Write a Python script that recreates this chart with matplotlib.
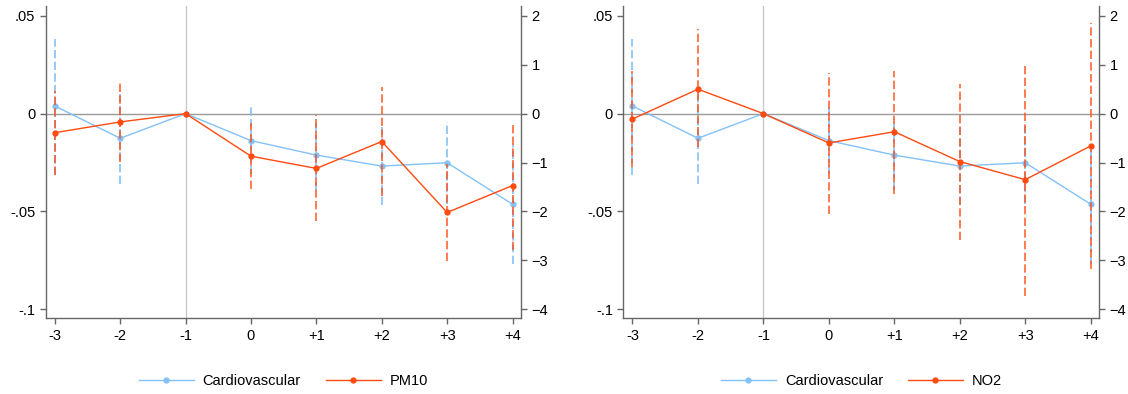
import numpy as np
import matplotlib
matplotlib.use('Agg')
import matplotlib.pyplot as plt

plt.rcParams['font.family'] = ['Liberation Sans', 'DejaVu Sans']

# event time
periods = [-3, -2, -1, 0, 1, 2, 3, 4]
period_labels = ['-3', '-2', '-1', '0', '+1', '+2', '+3', '+4']

# Cardiovascular (left axis)
cardio = [0.0039, -0.0126, 0.0, -0.0138, -0.0212, -0.0268, -0.0251, -0.0463]
cardio_lo = [-0.0316, -0.0360, 0.0, -0.0310, -0.0390, -0.0465, -0.0460, -0.0768]
cardio_hi = [0.0383, 0.0108, 0.0, 0.0036, -0.0030, -0.0070, -0.0043, -0.0160]

# PM10 (right axis)
pm10 = [-0.39, -0.17, 0.0, -0.87, -1.12, -0.57, -2.02, -1.47]
pm10_lo = [-1.25, -0.98, 0.0, -1.54, -2.20, -1.68, -3.02, -2.79]
pm10_hi = [0.47, 0.64, 0.0, -0.20, -0.03, 0.54, -1.02, -0.17]

# NO2 (right axis)
no2 = [-0.11, 0.50, 0.0, -0.60, -0.37, -0.98, -1.35, -0.66]
no2_lo = [-1.09, -0.68, 0.0, -2.05, -1.64, -2.58, -3.72, -3.18]
no2_hi = [0.87, 1.72, 0.0, 0.83, 0.87, 0.60, 1.02, 1.86]

left_ticks = [0.05, 0, -0.05, -0.1]
left_ticklabels = ['.05', '0', '-.05', '-.1']
right_ticks = [2, 1, 0, -1, -2, -3, -4]

BLUE = '#84c1f7'
ORANGE = '#ff4a10'
SPINE = '#666666'
FS = 10.5

fig = plt.figure(figsize=(11.28, 3.94), dpi=100)

panels = [
    ([0.0405, 0.1921, 0.4214, 0.7927], 'PM10', pm10, pm10_lo, pm10_hi),
    ([0.5526, 0.1921, 0.4219, 0.7927], 'NO2', no2, no2_lo, no2_hi),
]

for rect, name, vals, lo, hi in panels:
    ax = fig.add_axes(rect)
    ax2 = ax.twinx()

    ax.axvline(-1, color='#c8c8c8', lw=1, zorder=0)
    ax.axhline(0, color='#9a9a9a', lw=1, zorder=0)

    # cardiovascular
    ax.vlines(periods, cardio_lo, cardio_hi, colors=BLUE, lw=1.2,
              linestyles=(0, (5, 2)), zorder=2)
    l1, = ax.plot(periods, cardio, color=BLUE, lw=1, marker='o', ms=3.5,
                  zorder=3, label='Cardiovascular')

    # pollutant
    ax2.vlines(periods, lo, hi, colors=ORANGE, lw=1.2, alpha=0.85,
               linestyles=(0, (5, 2)), zorder=2)
    l2, = ax2.plot(periods, vals, color=ORANGE, lw=1, marker='o', ms=3.5,
                   zorder=3, label=name)

    ax.set_xlim(-3.14, 4.13)
    ax.set_ylim(-0.1046, 0.055)
    ax2.set_ylim(-0.1046 * 40, 0.055 * 40)

    ax.set_xticks(periods)
    ax.set_xticklabels(period_labels)
    ax.set_yticks(left_ticks)
    ax.set_yticklabels(left_ticklabels)
    ax2.set_yticks(right_ticks)

    for a in (ax, ax2):
        a.spines['top'].set_visible(False)
        for s in ('left', 'right', 'bottom'):
            a.spines[s].set_color(SPINE)
            a.spines[s].set_linewidth(1)
        a.tick_params(colors=SPINE, labelcolor='black', labelsize=FS,
                      length=4, width=1)
    ax.spines['right'].set_visible(False)
    ax2.spines['left'].set_visible(False)
    ax2.spines['bottom'].set_visible(False)

    ax.legend(handles=[l1, l2], loc='center', bbox_to_anchor=(0.5, -0.2),
              ncol=2, frameon=False, fontsize=FS, handlelength=3.8,
              columnspacing=1.7, handletextpad=0.6)

fig.savefig('out.png', dpi=100)
